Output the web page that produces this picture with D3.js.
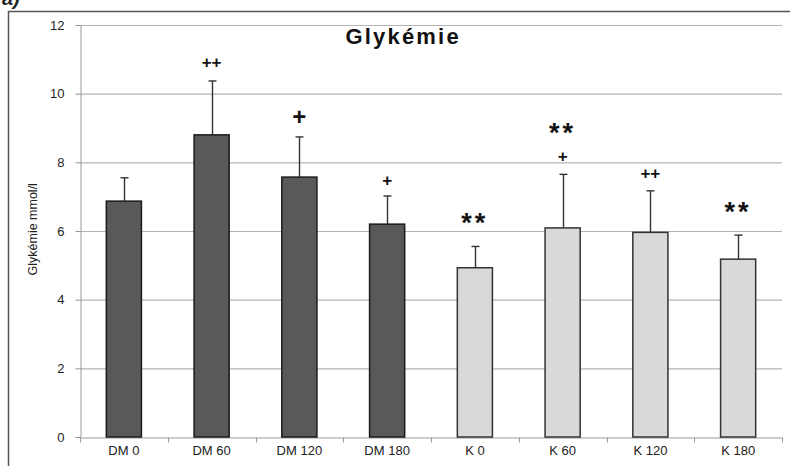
<!DOCTYPE html>
<html>
<head>
<meta charset="utf-8">
<script src="https://cdn.jsdelivr.net/npm/d3@7"></script>
<style>
  body { margin: 0; background: #fff; }
  svg { display: block; font-family: Arial, "Liberation Sans", sans-serif; }
</style>
</head>
<body>
<svg id="chart"></svg>
<script>
// data
const categories = ["DM 0", "DM 60", "DM 120", "DM 180", "K 0", "K 60", "K 120", "K 180"];
const means = [6.87, 8.8, 7.57, 6.2, 4.93, 6.09, 5.96, 5.18];
const errors = [0.68, 1.57, 1.17, 0.82, 0.62, 1.56, 1.21, 0.7];
const groups = ["DM", "DM", "DM", "DM", "K", "K", "K", "K"];
const yTicks = [0, 2, 4, 6, 8, 10, 12];
// significance marks: category, text, value where the mark sits
const marks = [
  { cat: "DM 60", text: "++", at: 10.93, size: 17 },
  { cat: "DM 120", text: "+", at: 9.32, size: 24 },
  { cat: "DM 180", text: "+", at: 7.49, size: 17 },
  { cat: "K 0", text: "**", at: 6.47, size: 27 },
  { cat: "K 60", text: "**", at: 9.09, size: 27 },
  { cat: "K 60", text: "+", at: 8.19, size: 17 },
  { cat: "K 120", text: "++", at: 7.69, size: 17 },
  { cat: "K 180", text: "**", at: 6.79, size: 27 }
];

const svgWidth = 790, svgHeight = 466;
const margin = { top: 25, right: 8, bottom: 29, left: 80 };
const width = svgWidth - margin.left - margin.right;
const height = svgHeight - margin.top - margin.bottom;

const svg = d3.select("#chart")
  .attr("width", svgWidth)
  .attr("height", svgHeight);

// outer frame + "a)" label, cut at the top like the scan
svg.append("text")
  .attr("x", 2).attr("y", 5)
  .attr("font-size", 20).attr("font-weight", "bold").attr("font-style", "italic")
  .attr("fill", "#222")
  .text("a)");
svg.append("path")
  .attr("d", "M8.5,466V11.5H790")
  .attr("fill", "none")
  .attr("stroke", "#555")
  .attr("stroke-width", 1.5);

const g = svg.append("g")
  .attr("transform", "translate(" + margin.left + "," + margin.top + ")");

const x = d3.scaleBand()
  .domain(categories)
  .range([0, width])
  .paddingInner(0.6)
  .paddingOuter(0.3);

const y = d3.scaleLinear()
  .domain([0, 12])
  .range([height, 0]);

// gridlines
g.append("g")
  .selectAll("line")
  .data(yTicks.filter(d => d > 0))
  .join("line")
  .attr("x1", 0).attr("x2", width)
  .attr("y1", d => y(d) + 0.5).attr("y2", d => y(d) + 0.5)
  .attr("stroke", "#b3b3b3")
  .attr("stroke-width", 1.2);

// y axis
const yAxis = g.append("g")
  .attr("transform", "translate(0.5,0)")
  .call(d3.axisLeft(y).tickValues(yTicks).tickSize(5).tickPadding(11));
yAxis.select(".domain").attr("stroke", "#9a9a9a");
yAxis.selectAll(".tick line").attr("stroke", "#9a9a9a");
yAxis.selectAll(".tick text")
  .attr("font-size", 13)
  .attr("fill", "#222")
  .attr("font-family", "Arial, 'Liberation Sans', sans-serif");

// x axis
const xAxis = g.append("g")
  .attr("transform", "translate(0," + (height + 0.5) + ")")
  .call(d3.axisBottom(x).tickSize(0).tickPadding(8));
xAxis.select(".domain").attr("stroke", "#9a9a9a");
xAxis.selectAll(".tick text")
  .attr("font-size", 13)
  .attr("fill", "#222")
  .attr("font-family", "Arial, 'Liberation Sans', sans-serif");
// category boundary ticks
xAxis.append("g")
  .selectAll("line")
  .data(d3.range(categories.length + 1))
  .join("line")
  .attr("x1", i => Math.round(i * x.step()) + 0.5)
  .attr("x2", i => Math.round(i * x.step()) + 0.5)
  .attr("y1", 0).attr("y2", 5)
  .attr("stroke", "#9a9a9a");

// y axis title
g.append("text")
  .attr("transform", "translate(" + (-43) + "," + y(6.05) + ") rotate(-90)")
  .attr("text-anchor", "middle")
  .attr("font-size", 12.5)
  .attr("fill", "#222")
  .text("Glykémie mmol/l");

// error bars
const eb = g.append("g")
  .attr("stroke", "#333")
  .attr("stroke-width", 1.4);
categories.forEach((c, i) => {
  const cx = Math.round(x(c) + x.bandwidth() / 2) + 0.5;
  eb.append("line")
    .attr("x1", cx).attr("x2", cx)
    .attr("y1", y(means[i])).attr("y2", y(means[i] + errors[i]));
  eb.append("line")
    .attr("x1", cx - 4).attr("x2", cx + 4)
    .attr("y1", y(means[i] + errors[i])).attr("y2", y(means[i] + errors[i]));
});

// bars
g.append("g")
  .selectAll("rect")
  .data(categories)
  .join("rect")
  .attr("x", d => x(d))
  .attr("y", (d, i) => y(means[i]))
  .attr("width", x.bandwidth())
  .attr("height", (d, i) => y(0) - y(means[i]))
  .attr("fill", (d, i) => groups[i] === "DM" ? "#595959" : "#d9d9d9")
  .attr("stroke", (d, i) => groups[i] === "DM" ? "#1a1a1a" : "#333")
  .attr("stroke-width", 1.5);

// significance marks
g.append("g")
  .selectAll("text")
  .data(marks)
  .join("text")
  .attr("x", d => x(d.cat) + x.bandwidth() / 2)
  .attr("y", d => y(d.at))
  .attr("dy", d => d.text === "**" ? "0.62em" : "0.35em")
  .attr("text-anchor", "middle")
  .attr("font-size", d => d.size)
  .attr("font-weight", "bold")
  .attr("letter-spacing", d => d.text === "**" ? 3 : 0)
  .attr("fill", "#111")
  .text(d => d.text);

// title
g.append("text")
  .attr("x", x("DM 180") + x.bandwidth() / 2 + 16)
  .attr("y", y(11.45))
  .attr("text-anchor", "middle")
  .attr("font-size", 22)
  .attr("font-weight", "bold")
  .attr("letter-spacing", 2.2)
  .attr("fill", "#111")
  .text("Glykémie");
</script>
</body>
</html>
